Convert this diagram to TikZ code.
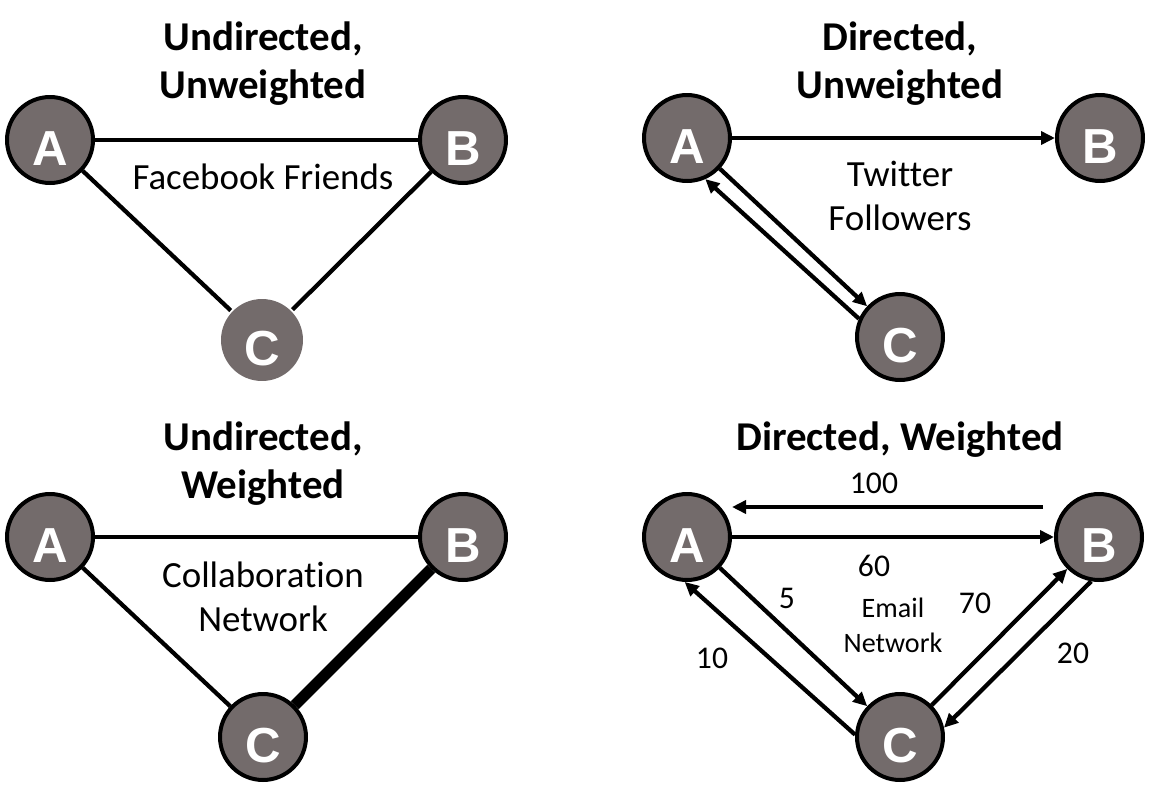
\documentclass[tikz,border=0pt]{standalone}
\usepackage{fontspec}
\setmainfont{Carlito}[Ligatures={NoCommon}]
\newfontfamily\letterfont{Liberation Sans}
\usetikzlibrary{arrows.meta}
\definecolor{nodegray}{RGB}{115,107,107}
\begin{document}
\begin{tikzpicture}[x=0.02cm,y=-0.02cm,
  vtx/.style={circle,fill=nodegray,draw=black,line width=0.08cm,minimum size=1.72cm,inner sep=0pt,
    text=white,font=\letterfont\bfseries\fontsize{28}{28}\selectfont,text height=1.0cm,text depth=0pt},
  vtxplain/.style={vtx,draw=none,minimum size=1.64cm},
  edge/.style={line width=0.085cm},
  thickedge/.style={line width=0.22cm},
  arr/.style={edge,-{Triangle[length=0.28cm,width=0.26cm]}},
  title/.style={font=\bfseries\fontsize{23.3}{27}\selectfont,anchor=base},
  lbl/.style={font=\fontsize{21}{25}\selectfont},
  small/.style={font=\fontsize{16}{19}\selectfont},
  num/.style={font=\fontsize{18}{21}\selectfont}]
\useasboundingbox (0,0) rectangle (1154,809);

% ---------- Panel 1: Undirected, Unweighted
\node[title] (t1a) at (263,50) {Undirected,};
\node[title] (t1b) at (263,98) {Unweighted};
\node[vtx] (A1) at (50,140) {A};
\node[vtx] (B1) at (463,140) {B};
\node[vtxplain] (C1) at (262,340) {C};
\draw[edge] (A1) -- (B1);
\draw[edge] (A1) -- (C1);
\draw[edge] (B1) -- (C1);
\node[lbl] (l1) at (263,177) {Facebook Friends};

% ---------- Panel 2: Directed, Unweighted
\node[title] (t2a) at (900,50) {Directed,};
\node[title] (t2b) at (900,98) {Unweighted};
\node[vtx] (A2) at (687,138) {A};
\node[vtx] (B2) at (1100,138) {B};
\node[vtx] (C2) at (900,337) {C};
\draw[arr] (A2) -- (B2);
\draw[arr] (A2) -- (C2);
\draw[arr] (C2.156) -- (A2.-66);
\node[lbl] (l2a) at (900,174) {Twitter};
\node[lbl] (l2b) at (900,218) {Followers};

% ---------- Panel 3: Undirected, Weighted
\node[title] (t3a) at (263,450) {Undirected,};
\node[title] (t3b) at (263,498) {Weighted};
\node[vtx] (A3) at (50,537) {A};
\node[vtx] (B3) at (463,537) {B};
\node[vtx] (C3) at (263,737) {C};
\draw[edge] (A3) -- (B3);
\draw[edge] (A3) -- (C3);
\draw[thickedge] (B3) -- (C3);
\node[lbl] (l3a) at (263,575) {Collaboration};
\node[lbl] (l3b) at (263,619) {Network};

% ---------- Panel 4: Directed, Weighted
\node[title] (t4) at (900,450) {Directed, Weighted};
\node[vtx] (A4) at (687,537) {A};
\node[vtx] (B4) at (1099,537) {B};
\node[vtx] (C4) at (900,737) {C};
\coordinate (s100) at (1043,507);
\coordinate (e100) at (732,507);
\draw[arr] (s100) -- (e100);
\draw[arr] (A4) -- (B4);
\draw[arr] (A4) -- (C4);
\draw[arr] (C4.177) -- (A4.-93);
\draw[arr] (C4) -- (B4);
\draw[arr] (B4.-100) -- (C4.12);
\node[num] (w100) at (874,483) {100};
\node[num] (w60) at (874,566) {60};
\node[num] (w5) at (787,598) {5};
\node[num] (w10) at (712,658) {10};
\node[num] (w70) at (975,603) {70};
\node[num] (w20) at (1073,653) {20};
\node[small] (l4a) at (893,608) {Email};
\node[small] (l4b) at (893,643) {Network};
\end{tikzpicture}
\end{document}
